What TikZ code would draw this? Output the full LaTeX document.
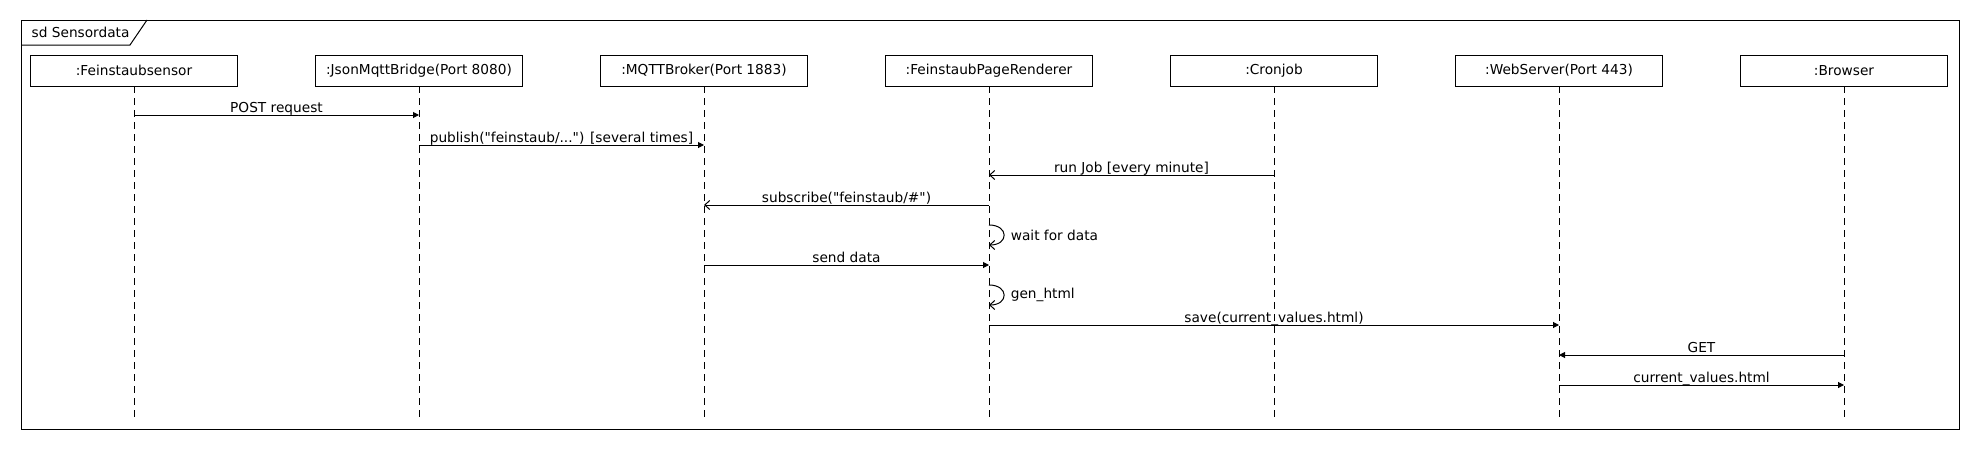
\documentclass[tikz,border=0pt]{standalone}
\usepackage{fontspec}
\setmainfont{DejaVu Sans}
\usetikzlibrary{arrows.meta,positioning}

\begin{document}
\begin{tikzpicture}[x=1pt,y=-1pt,node distance=78pt,
  font=\fontsize{13.7}{16}\selectfont,
  obj/.style={draw,line width=1pt,minimum width=207pt,minimum height=31pt,
              inner sep=0pt,outer sep=0pt},
  life/.style={line width=1pt,dash pattern=on 7pt off 5pt},
  call/.style={line width=1pt,-{Triangle[length=6pt,width=6pt]}},
  reply/.style={line width=1pt,-{Straight Barb[length=5pt,width=9pt]}},
  lbl/.style={anchor=base,yshift=2.5pt,inner sep=0pt}]
  \useasboundingbox (0,0) rectangle (1980,450);
  % frame
  \draw[line width=1pt] (21,20) rectangle (1959,429);
  \node[anchor=west,inner sep=0pt] (title) at (31.5,32.5) {sd Sensordata};
  \draw[line width=1pt] (21,45) -- (130,45) -- (147,20);
  % lifeline heads
  \node[obj] (FS) at (134,70.5) {:Feinstaubsensor};
  \node[obj,right=of FS] (JB) {:JsonMqttBridge(Port 8080)};
  \node[obj,right=of JB] (MB) {:MQTTBroker(Port 1883)};
  \node[obj,right=of MB] (PR) {:FeinstaubPageRenderer};
  \node[obj,right=of PR] (CJ) {:Cronjob};
  \node[obj,right=of CJ] (WS) {:WebServer(Port 443)};
  \node[obj,right=of WS] (BR) {:Browser};
  % lifelines
  \coordinate (bot) at (0,417);
  \draw[life] (FS) -- (FS |- bot);
  \draw[life] (JB) -- (JB |- bot);
  \draw[life] (MB) -- (MB |- bot);
  \draw[life] (PR) -- (PR |- bot);
  \draw[life] (CJ) -- (CJ |- bot);
  \draw[life] (WS) -- (WS |- bot);
  \draw[life] (BR) -- (BR |- bot);
  % messages
  \coordinate (m1) at (0,115);
  \coordinate (m2) at (0,145);
  \coordinate (m3) at (0,175);
  \coordinate (m4) at (0,205);
  \coordinate (w1) at (0,225);
  \coordinate (w2) at (0,245);
  \coordinate (m6) at (0,265);
  \coordinate (g1) at (0,285);
  \coordinate (g2) at (0,305);
  \coordinate (m8) at (0,325);
  \coordinate (m9) at (0,355);
  \coordinate (m10) at (0,385);
  \draw[call] (FS |- m1) -- node[lbl] {POST request} (JB |- m1);
  \draw[call] (JB |- m2) -- node[lbl] {publish(\textquotedbl feinstaub/...\textquotedbl) [several times]} (MB |- m2);
  \draw[reply] (CJ |- m3) -- node[lbl] {run Job [every minute]} (PR |- m3);
  \draw[reply] (PR |- m4) -- node[lbl] {subscribe(\textquotedbl feinstaub/\#\textquotedbl)} (MB |- m4);
  \draw[reply] (PR |- w1) .. controls +(20,0) and +(20,0) .. node[right=3pt] {wait for data} (PR |- w2);
  \draw[call] (MB |- m6) -- node[lbl] {send data} (PR |- m6);
  \draw[reply] (PR |- g1) .. controls +(20,0) and +(20,0) .. node[right=3pt] {gen\_html} (PR |- g2);
  \draw[call] (PR |- m8) -- node[lbl] {save(current\_values.html)} (WS |- m8);
  \draw[call] (BR |- m9) -- node[lbl] {GET} (WS |- m9);
  \draw[call] (WS |- m10) -- node[lbl] {current\_values.html} (BR |- m10);
\end{tikzpicture}
\end{document}
